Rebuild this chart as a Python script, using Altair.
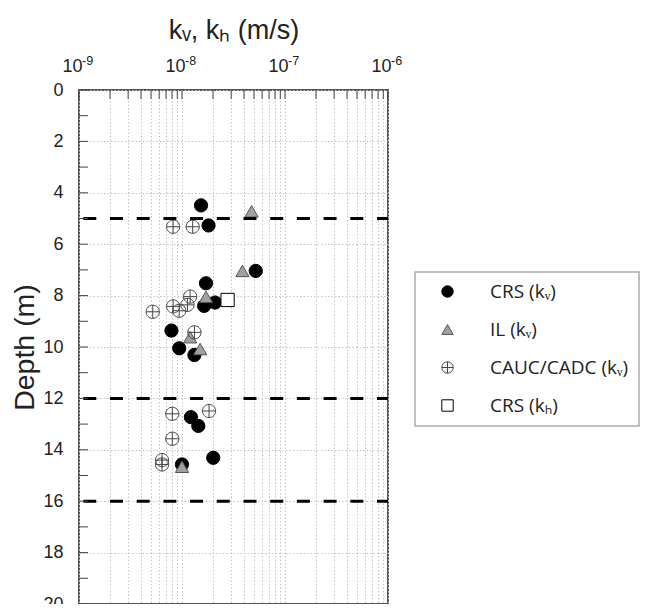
import altair as alt
import pandas as pd

# ---------------- data ----------------
series_names = ["CRS (kᵥ)", "IL (kᵥ)", "CAUC/CADC (kᵥ)", "CRS (kₕ)"]

crs_kv_k = [1.53e-8, 1.81e-8, 5.2e-8, 1.71e-8, 1.64e-8, 2.09e-8, 7.9e-9, 9.4e-9,
            1.32e-8, 1.22e-8, 1.44e-8, 2.01e-8, 1.0e-8]
crs_kv_d = [4.49, 5.27, 7.04, 7.52, 8.40, 8.27, 9.36, 10.05, 10.31, 12.73, 13.07,
            14.31, 14.57]

il_kv_k = [4.74e-8, 3.86e-8, 1.71e-8, 1.2e-8, 1.5e-8, 1.0e-8]
il_kv_d = [4.72, 7.04, 8.05, 9.62, 10.08, 14.66]

cauc_kv_k = [8.2e-9, 1.27e-8, 1.2e-8, 1.13e-8, 8.2e-9, 9.4e-9, 5.2e-9, 1.32e-8,
             8.05e-9, 1.83e-8, 8.05e-9, 6.4e-9, 6.4e-9]
cauc_kv_d = [5.32, 5.32, 8.04, 8.36, 8.42, 8.59, 8.63, 9.43, 12.60, 12.49, 13.57,
             14.40, 14.57]

crs_kh_k = [2.77e-8]
crs_kh_d = [8.17]

layer_boundaries = [5, 12, 16]

decades = [1e-9, 1e-8, 1e-7, 1e-6]
decade_exponents = ["-9", "-8", "-7", "-6"]
x_tick_values = [m * 10.0 ** e for e in (-9, -8, -7) for m in range(1, 10)] + [1e-6]
y_label_values = [0, 2, 4, 6, 8, 10, 12, 14, 16, 18, 20]
y_tick_values = list(range(0, 21))

# ---------------- tables ----------------
rows = []
for name, ks, ds in zip(series_names,
                        [crs_kv_k, il_kv_k, cauc_kv_k, crs_kh_k],
                        [crs_kv_d, il_kv_d, cauc_kv_d, crs_kh_d]):
    for k, d in zip(ks, ds):
        rows.append({"series": name, "k": k, "depth": d})
df = pd.DataFrame(rows)

bound_df = pd.DataFrame({"depth": layer_boundaries})
xt_df = pd.DataFrame({"k": x_tick_values})
yt_df = pd.DataFrame({"depth": y_tick_values})
exp_df = pd.DataFrame({"k": decades, "e": decade_exponents})

x_scale = alt.Scale(type="log", domain=[1e-9, 1e-6], nice=False)
y_scale = alt.Scale(domain=[0, 20], reverse=True, nice=False, zero=False)

cross_circle = "M-1,0A1,1 0 1,0 1,0A1,1 0 1,0 -1,0ZM-1,0L1,0M0,-1L0,1"

label_expr = (
    "abs(log(datum.value)/LN10 - round(log(datum.value)/LN10)) > 0.01 ? '' : '10'"
)

FONT = "Liberation Sans"
GRID = "#c4c4c4"

x_axis = alt.Axis(orient="top", title="kᵥ, kₕ   (m/s)", values=x_tick_values,
                  labelExpr=label_expr, ticks=False, domain=False,
                  grid=True, gridDash=[1.5, 2], gridColor=GRID,
                  gridWidth=1, labelPadding=15, titlePadding=13,
                  labelAlign="right", labelOffset=3,
                  labelFontSize=18, titleFontSize=27, labelFont=FONT,
                  titleFont=FONT, titleFontWeight="normal",
                  labelColor="#222", titleColor="#222", labelFlush=False,
                  labelOverlap=False)
y_axis = alt.Axis(title="Depth (m)", values=y_label_values, ticks=False,
                  domain=False, grid=True, gridDash=[1.5, 2],
                  gridColor=GRID, gridWidth=1, labelPadding=16,
                  titlePadding=3, labelFontSize=18, titleFontSize=28.5,
                  labelFont=FONT, titleFont=FONT,
                  titleFontWeight="normal", labelColor="#222",
                  titleColor="#222", labelFlush=False)

points = alt.Chart(df).mark_point(opacity=1, filled=False).encode(
    x=alt.X("k:Q", scale=x_scale, axis=x_axis),
    y=alt.Y("depth:Q", scale=y_scale, axis=y_axis),
    shape=alt.Shape("series:N", scale=alt.Scale(
        domain=series_names,
        range=["circle", "triangle-up", cross_circle, "square"]),
        legend=alt.Legend(title=None)),
    fill=alt.Fill("series:N", scale=alt.Scale(
        domain=series_names,
        range=["#000000", "#a0a0a0", "transparent", "#ffffff"]),
        legend=alt.Legend(title=None)),
    stroke=alt.Stroke("series:N", scale=alt.Scale(
        domain=series_names,
        range=["#000000", "#555555", "#444444", "#000000"]),
        legend=alt.Legend(title=None)),
    strokeWidth=alt.StrokeWidth("series:N", scale=alt.Scale(
        domain=series_names, range=[1, 1, 1, 2]),
        legend=alt.Legend(title=None)),
    size=alt.value(175),
    order=alt.Order("idx:Q"),
).transform_window(idx="row_number()")

bounds = alt.Chart(bound_df).mark_rule(
    color="#000000", strokeWidth=3, strokeDash=[13, 13.7], strokeDashOffset=2
).encode(y=alt.Y("depth:Q", scale=y_scale, axis=y_axis))

x_ticks = alt.Chart(xt_df).mark_rule(color="#444", strokeWidth=1).encode(
    x=alt.X("k:Q", scale=x_scale, axis=x_axis),
    y=alt.value(0), y2=alt.value(9))

y_ticks = alt.Chart(yt_df).mark_rule(color="#444", strokeWidth=1).encode(
    y=alt.Y("depth:Q", scale=y_scale, axis=y_axis),
    x=alt.value(0), x2=alt.value(9))

exps = alt.Chart(exp_df).mark_text(
    align="left", baseline="alphabetic", dx=3, fontSize=12.5, font=FONT,
    color="#222"
).encode(
    x=alt.X("k:Q", scale=x_scale, axis=x_axis),
    y=alt.value(-25),
    text="e:N")

chart = alt.layer(points, bounds, x_ticks, y_ticks, exps).properties(
    width=309, height=514,
    autosize=alt.AutoSizeParams(type="none"),
    padding={"left": 71, "top": 82, "right": 253, "bottom": 0},
).configure_view(
    stroke="#555555", strokeWidth=2
).configure_legend(
    orient="none", legendX=336, legendY=182,
    strokeColor="#aaaaaa", strokeWidth=1.5, padding=10,
    labelFont="Open Sans", labelFontSize=19, labelColor="#222",
    symbolSize=130, rowPadding=18, symbolOffset=13, labelOffset=33,
    labelLimit=300,
)

chart.save("out.html", embed_options={"renderer": "svg", "actions": False})
